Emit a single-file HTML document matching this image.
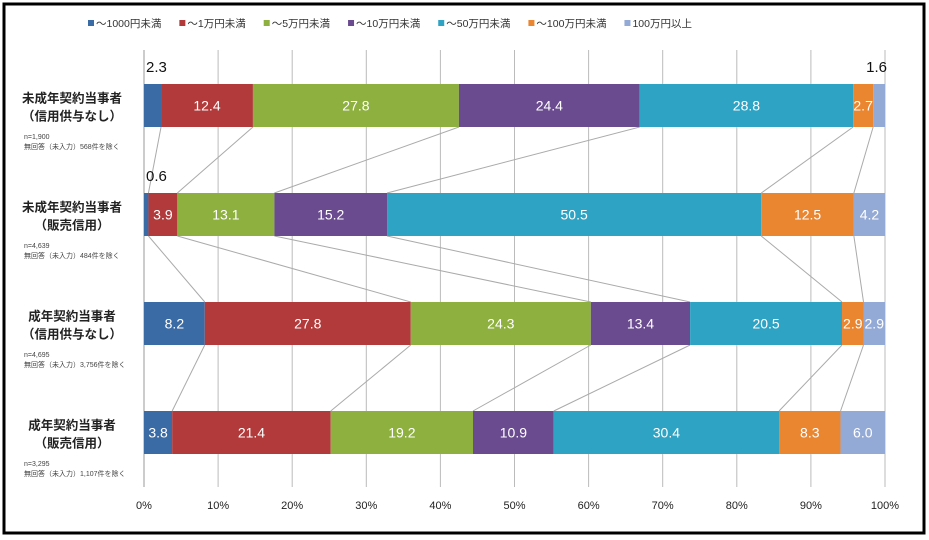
<!DOCTYPE html>
<html><head><meta charset="utf-8"><style>
body{margin:0;background:#fff;}
svg{display:block;font-family:"Liberation Sans","Noto Sans CJK JP",sans-serif;}
</style></head><body>
<svg id="chart" width="929" height="540">
<rect x="4" y="4" width="920" height="529" fill="#fff" stroke="#000" stroke-width="3"/>
<g id="grid"></g><g id="conn"></g><g id="bars"></g><g id="labels"></g><g id="legend"></g><g id="axis"></g>
</svg>
<script>
const categories=["〜1000円未満","〜1万円未満","〜5万円未満","〜10万円未満","〜50万円未満","〜100万円未満","100万円以上"];
const rowTitles=[["未成年契約当事者","（信用供与なし）"],["未成年契約当事者","（販売信用）"],["成年契約当事者","（信用供与なし）"],["成年契約当事者","（販売信用）"]];
const rowNotes=[["n=1,900","無回答（未入力）568件を除く"],["n=4,639","無回答（未入力）484件を除く"],["n=4,695","無回答（未入力）3,756件を除く"],["n=3,295","無回答（未入力）1,107件を除く"]];
const row1=[2.3,12.4,27.8,24.4,28.8,2.7,1.6];
const row2=[0.6,3.9,13.1,15.2,50.5,12.5,4.2];
const row3=[8.2,27.8,24.3,13.4,20.5,2.9,2.9];
const row4=[3.8,21.4,19.2,10.9,30.4,8.3,6.0];
const rows=[row1,row2,row3,row4];
const ticks=[0,10,20,30,40,50,60,70,80,90,100];
const colors=["#3b6ba5","#b23a3a","#8db03f","#6b4b90","#2ea3c4","#ea8530","#94aad6"];
const NS="http://www.w3.org/2000/svg";
const X0=144,X1=885,rowTop=[84,193,302,411],barH=43;
const xs=v=>X0+(X1-X0)*v/100;
function mk(tag,attrs,parent,text){const e=document.createElementNS(NS,tag);for(const k in attrs)e.setAttribute(k,attrs[k]);if(text!==undefined)e.textContent=text;document.getElementById(parent).appendChild(e);return e;}
ticks.forEach((t,i)=>{
 const g=mk("line",{x1:xs(t),x2:xs(t),y1:50,y2:487,stroke:i==0?"#999":"#bbb","stroke-width":1},"grid");
 
 
 const l=mk("text",{x:xs(t),y:509,"text-anchor":"middle","font-size":11,fill:"#222"},"axis",t+"%");
 
 
});
const cum=rows.map(r=>{let c=[0];r.forEach(v=>c.push(c[c.length-1]+v));return c;});
for(let r=0;r<3;r++){for(let k=1;k<7;k++){
 const ln=mk("line",{x1:xs(cum[r][k]),y1:rowTop[r]+barH,x2:xs(cum[r+1][k]),y2:rowTop[r+1],stroke:"#aaa","stroke-width":1},"conn");
 
 
}}
rows.forEach((r,ri)=>{
 let c=0;
 r.forEach((v,k)=>{
  const x=xs(c),w=xs(c+v)-x;
  const b=mk("rect",{x:x,y:rowTop[ri],width:w,height:barH,fill:colors[k]},"bars");
  
  
  if(w>18){
   const t=mk("text",{x:x+w/2,y:rowTop[ri]+barH/2+5,"text-anchor":"middle","font-size":14,fill:"#fff"},"labels",v.toFixed(1));
   
   
  } else {
   const right=k>=5;
   const t=mk("text",{x:right?xs(c+v)+2:x+2,y:rowTop[ri]-12,"text-anchor":right?"end":"start","font-size":15,fill:"#111"},"labels",v.toFixed(1));
   
   
  }
  c+=v;
 });
 const cy=rowTop[ri]+barH/2;
 const t1=mk("text",{x:72,y:cy-3,"text-anchor":"middle","font-size":12.5,"font-weight":"bold",fill:"#222"},"labels",rowTitles[ri][0]);
 
 
 const t2=mk("text",{x:72,y:cy+15,"text-anchor":"middle","font-size":12.5,"font-weight":"bold",fill:"#222"},"labels",rowTitles[ri][1]);
 
 
 rowNotes[ri].forEach((n,j)=>{
  const t=mk("text",{x:24,y:rowTop[ri]+barH+12+j*10,"font-size":7,fill:"#444"},"labels",n);
  
  
 });
});
const legX=[84,140,210,262,330,400,470];
categories.forEach((c,i)=>{
 const s=mk("rect",{x:legX[i]+5,y:20,width:6,height:6,fill:colors[i]},"legend");
 
 
 const t=mk("text",{x:legX[i]+13,y:27,"font-size":10.5,fill:"#333"},"legend",c);
 
 
});
// space legend entries evenly by measured width
let lx=88;
const ents=document.querySelectorAll('#legend text'),sw=document.querySelectorAll('#legend rect');
ents.forEach((t,i)=>{sw[i].setAttribute('x',lx);t.setAttribute('x',lx+8);lx+=8+t.getComputedTextLength()+18;});
</script>
</body></html>
